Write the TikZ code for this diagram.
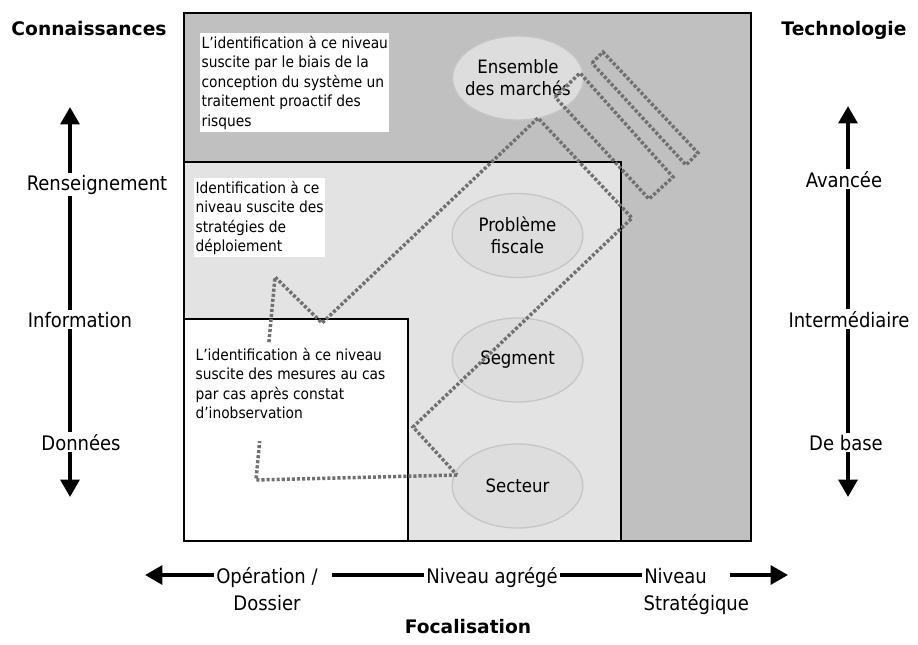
\documentclass[tikz,border=0pt]{standalone}
\usepackage{fontspec}
\setmainfont{DejaVu Sans Condensed}
\newfontfamily\titlefont{DejaVu Sans}
\usetikzlibrary{arrows.meta,shapes.geometric}
\definecolor{outergray}{HTML}{C0C0C0}
\definecolor{midgray}{HTML}{E3E3E3}
\definecolor{ellfill}{HTML}{DDDDDD}
\definecolor{elldraw}{HTML}{C6C6C6}
\definecolor{dotgray}{HTML}{707070}
\begin{document}
\begin{tikzpicture}[x=0.75pt,y=-0.75pt,
  lbl/.style={font=\fontsize{15}{18}\selectfont, fill=white, inner xsep=1.5pt, inner ysep=1.5pt, anchor=base},
  plainlbl/.style={font=\fontsize{15}{18}\selectfont, inner sep=1pt, anchor=base},
  ttl/.style={font=\titlefont\bfseries\fontsize{14}{17}\selectfont, inner sep=1pt, anchor=base},
  ell/.style={ellipse, fill=ellfill, draw=elldraw, line width=1pt, minimum width=98pt, minimum height=63pt, inner sep=0pt},
  elltext/.style={font=\fontsize{13.8}{16.3}\selectfont, align=center, inner sep=0pt},
  boxtext/.style={font=\fontsize{11.5}{14.6}\selectfont, align=left, anchor=north west},
  border/.style={line width=1.1pt, draw=black},
  dotline/.style={draw=dotgray, line width=2.6pt, dash pattern=on 2.3pt off 1.5pt, line join=miter},
  bigarrow/.style={line width=3pt, {Triangle[width=14pt,length=13pt]}-{Triangle[width=14pt,length=13pt]}}
]
\useasboundingbox (0,0) rectangle (918,644);

% regions
\fill[outergray] (184,13) rectangle (751,541);
\fill[midgray] (184,162) rectangle (621,541);
\fill[white] (184,319) rectangle (408,541);
\draw[border] (184,162) -| (621,541);
\draw[border] (184,319) -| (408,541);
\draw[border] (184,13) rectangle (751,541);

% ellipses
\node[ell] (ens) at (518,78) {};
\node[ell] (pro) at (517.5,235.5) {};
\node[ell] (seg) at (517.5,360) {};
\node[ell] (sec) at (517.5,486) {};
\node[elltext] (enst) at (ens.center) {Ensemble\\des marchés};
\node[elltext] (prot) at (pro.center) {Problème\\fiscale};
\node[elltext] (segt) at (seg.center) {Segment};
\node[elltext] (sect) at (sec.center) {Secteur};

% dotted paths
\coordinate (p1) at (457,475);
\coordinate (p2) at (256,480);
\coordinate (p3) at (275,277);
\coordinate (p4) at (322,323);
\coordinate (p5) at (538,118);
\coordinate (p6) at (632,218);
\coordinate (p7) at (413,427);
\draw[dotline] (p1) -- (p2) -- (p3) -- (p4) -- (p5) -- (p6) -- (p7) -- cycle;
\coordinate (b1) at (555,97);
\coordinate (b2) at (580,73);
\coordinate (b3) at (673,177);
\coordinate (b4) at (649,199);
\draw[dotline] (b1) -- (b2) -- (b3) -- (b4) -- cycle;
\coordinate (c1) at (592,63);
\coordinate (c2) at (603,52);
\coordinate (c3) at (698,153);
\coordinate (c4) at (686,165);
\draw[dotline] (c1) -- (c2) -- (c3) -- (c4) -- cycle;

% text boxes
\node[boxtext, fill=white, inner xsep=1pt, inner ysep=2pt] (t1) at (200,33)
  {L’identification à ce niveau\\suscite par le biais de la\\conception du système un\\traitement proactif des\\risques};
\node[boxtext, fill=white, inner xsep=1pt, inner ysep=2pt] (t2) at (194,178)
  {Identification à ce\\niveau suscite des\\stratégies de\\déploiement};
\fill[white] (192,343) rectangle (404,441);
\node[boxtext, inner xsep=1pt, inner ysep=2pt] (t3) at (194,345)
  {L’identification à ce niveau\\suscite des mesures au cas\\par cas après constat\\d’inobservation};

% titles
\node[ttl] (conn) at (89,35) {Connaissances};
\node[ttl] (tech) at (844,35) {Technologie};
\node[ttl] (foc) at (468,633) {Focalisation};

% left vertical axis
\coordinate (ltop) at (70,107);
\coordinate (lbot) at (70,497);
\draw[bigarrow] (lbot) -- (ltop);
\node[lbl] (ren) at (97,190) {Renseignement};
\node[lbl] (inf) at (80,327) {Information};
\node[lbl] (don) at (81,450) {Données};

% right vertical axis
\coordinate (rtop) at (848,106);
\coordinate (rbot) at (848,497);
\draw[bigarrow] (rbot) -- (rtop);
\node[lbl] (ava) at (844,187) {Avancée};
\node[lbl] (itm) at (849,327) {Intermédiaire};
\node[lbl] (deb) at (846,450) {De base};

% horizontal axis
\coordinate (hl) at (145,575);
\coordinate (hr) at (788,575);
\draw[bigarrow] (hl) -- (hr);
\node[lbl, anchor=base west] (op1) at (214,583) {Opération /\kern9pt};
\node[plainlbl] (op2) at (267,610) {Dossier};
\node[lbl] (agg) at (492,583) {Niveau agrégé};
\node[lbl, anchor=base west] (niv) at (642,583) {Niveau\kern16pt};
\node[plainlbl, anchor=base west] (str) at (642,610) {Stratégique};
\end{tikzpicture}
\end{document}
